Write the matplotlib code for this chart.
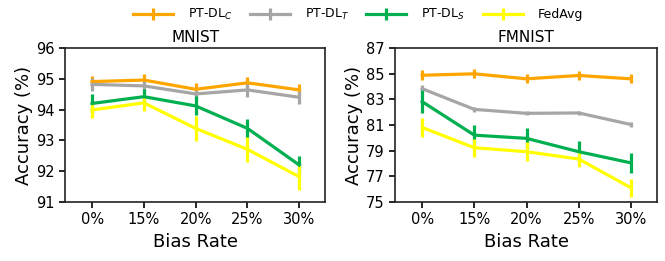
import numpy as np
import matplotlib
matplotlib.use("Agg")
import matplotlib.pyplot as plt

#-- data
bias_rates = ['0%', '15%', '20%', '25%', '30%']
labels = [r'PT-DL$_C$', r'PT-DL$_T$', r'PT-DL$_S$', 'FedAvg']
colors = ['#FFA500', '#A6A6A6', '#00B050', '#FFFF00']

mnist_c = [94.91, 94.96, 94.66, 94.87, 94.64]
mnist_t = [94.82, 94.77, 94.51, 94.64, 94.40]
mnist_s = [94.20, 94.42, 94.12, 93.39, 92.20]
mnist_f = [93.99, 94.22, 93.39, 92.71, 91.82]
mnist_c_err = [0.19, 0.19, 0.19, 0.19, 0.19]
mnist_t_err = [0.22, 0.20, 0.20, 0.22, 0.22]
mnist_s_err = [0.31, 0.25, 0.31, 0.30, 0.30]
mnist_f_err = [0.27, 0.26, 0.40, 0.40, 0.42]

fmnist_c = [84.88, 84.99, 84.60, 84.86, 84.60]
fmnist_t = [83.83, 82.22, 81.91, 81.94, 81.04]
fmnist_s = [82.82, 80.21, 79.96, 78.92, 78.05]
fmnist_f = [80.81, 79.23, 78.92, 78.35, 76.11]
fmnist_c_err = [0.37, 0.35, 0.35, 0.35, 0.35]
fmnist_t_err = [0.30, 0.20, 0.15, 0.15, 0.20]
fmnist_s_err = [0.88, 0.77, 0.80, 0.84, 0.77]
fmnist_f_err = [0.77, 0.70, 0.75, 0.65, 0.70]


#--
def draw_panel(ax, series, errs, title, yticks):
    x = np.arange(len(bias_rates))
    handles = []
    for vals, err, col, lab in zip(series, errs, colors, labels):
        h = ax.errorbar(x, vals, yerr=err, color=col, ecolor=col, linewidth=2.3,
                        elinewidth=2.3, capsize=0, label=lab)
        handles.append(h)
    ax.set_xlim(-0.52, 4.5)
    ax.set_xticks(x)
    ax.set_xticklabels(bias_rates)
    ax.set_yticks(yticks)
    ax.set_ylim(yticks[0], yticks[-1])
    ax.set_title(title, fontsize=11, pad=4)
    ax.set_xlabel('Bias Rate', fontsize=13)
    ax.set_ylabel('Accuracy (%)', fontsize=13, labelpad=2)
    ax.tick_params(labelsize=10.5, width=1.2, length=4)
    for s in ax.spines.values():
        s.set_linewidth(1.2)
        s.set_color('#222222')
    return handles


fig = plt.figure(figsize=(6.65, 2.61), dpi=100)
ax1 = fig.add_axes([0.098, 0.226, 0.391, 0.590])
ax2 = fig.add_axes([0.594, 0.226, 0.394, 0.590])

handles = draw_panel(ax1, [mnist_c, mnist_t, mnist_s, mnist_f],
                     [mnist_c_err, mnist_t_err, mnist_s_err, mnist_f_err],
                     'MNIST', [91, 92, 93, 94, 95, 96])
draw_panel(ax2, [fmnist_c, fmnist_t, fmnist_s, fmnist_f],
           [fmnist_c_err, fmnist_t_err, fmnist_s_err, fmnist_f_err],
           'FMNIST', [75, 77, 79, 81, 83, 85, 87])

fig.legend(handles, labels, loc='center', bbox_to_anchor=(0.538, 0.943), ncol=4,
           frameon=False, fontsize=9, handlelength=3.2, handletextpad=1.2,
           columnspacing=1.4)

fig.savefig('out.png', dpi=100)
